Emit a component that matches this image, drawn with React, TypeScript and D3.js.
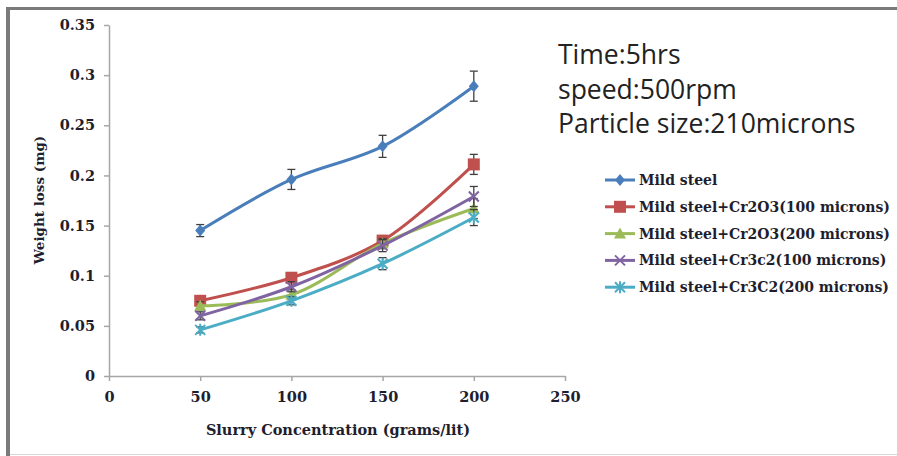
import React, { useEffect, useRef } from 'react'
import * as d3 from 'd3'

const concentrations = [50, 100, 150, 200]
const seriesNames = [
    'Mild steel',
    'Mild steel+Cr2O3(100 microns)',
    'Mild steel+Cr2O3(200 microns)',
    'Mild steel+Cr3c2(100 microns)',
    'Mild steel+Cr3C2(200 microns)',
]
const mildSteel = [0.145, 0.196, 0.229, 0.289]
const cr2o3_100 = [0.075, 0.098, 0.135, 0.211]
const cr2o3_200 = [0.070, 0.081, 0.132, 0.167]
const cr3c2_100 = [0.060, 0.089, 0.130, 0.179]
const cr3c2_200 = [0.046, 0.075, 0.112, 0.158]
const errMild = [0.006, 0.010, 0.011, 0.015]
const errCr2o3_100 = [0.004, 0.004, 0.005, 0.010]
const errCr2o3_200 = [0.004, 0.005, 0.005, 0.010]
const errCr3c2_100 = [0.004, 0.005, 0.006, 0.010]
const errCr3c2_200 = [0.003, 0.004, 0.006, 0.008]
const colors = ['#4a7ebb', '#c0504d', '#9bbb59', '#8064a2', '#4bacc6']
const markers = ['diamond', 'square', 'triangle', 'cross', 'star']
const xTicks = [0, 50, 100, 150, 200, 250]
const yTicks = [0, 0.05, 0.1, 0.15, 0.2, 0.25, 0.3, 0.35]
const notes = ['Time:5hrs', 'speed:500rpm', 'Particle size:210microns']

const W = 897
const H = 456
const labelFont = '"DejaVu Serif", serif'

const App = () => {
    const svgRef = useRef<SVGSVGElement>(null)

    useEffect(() => {
        const svg: any = d3.select(svgRef.current)
        svg.selectAll('*').remove()

        const values = [mildSteel, cr2o3_100, cr2o3_200, cr3c2_100, cr3c2_200]
        const errors = [errMild, errCr2o3_100, errCr2o3_200, errCr3c2_100, errCr3c2_200]

        const x = d3.scaleLinear([0, 250], [109, 565])
        const y = d3.scaleLinear([0, 0.35], [376, 25])

        // frame
        svg.append('rect').attr('x', 0).attr('y', 0).attr('width', W).attr('height', H).attr('fill', '#fff')
        svg.append('line').attr('x1', 6).attr('x2', W).attr('y1', 8.5).attr('y2', 8.5)
            .attr('stroke', '#7a7a7a').attr('stroke-width', 3)
        svg.append('line').attr('x1', 8).attr('x2', 8).attr('y1', 7).attr('y2', H)
            .attr('stroke', '#7a7a7a').attr('stroke-width', 4)
        svg.append('line').attr('x1', 10).attr('x2', W).attr('y1', 454.5).attr('y2', 454.5)
            .attr('stroke', '#d8d8d8').attr('stroke-width', 1)

        // axes
        const axisColor = '#a6a6a6'
        const xAxis = svg.append('g').attr('transform', `translate(0,${y(0)})`)
            .call(d3.axisBottom(x).tickValues(xTicks).tickSize(5).tickSizeOuter(0).tickFormat(d3.format('d')))
        const yAxis = svg.append('g').attr('transform', `translate(${x(0)},0)`)
            .call(d3.axisLeft(y).tickValues(yTicks).tickSize(5).tickSizeOuter(0).tickFormat((d: any) => d === 0 ? '0' : String(+d.toFixed(2))))
        for (const ax of [xAxis, yAxis]) {
            ax.select('.domain').attr('stroke', axisColor).attr('stroke-width', 1.5)
            ax.selectAll('.tick line').attr('stroke', axisColor).attr('stroke-width', 1.5)
            ax.selectAll('.tick text').attr('fill', '#1e1e2e').attr('font-family', labelFont)
                .attr('font-weight', 'bold').attr('font-size', 14.5)
        }
        xAxis.selectAll('.tick text').attr('dy', '1.25em')
        yAxis.selectAll('.tick text').attr('x', -14)

        svg.append('text').attr('x', 338).attr('y', 435).attr('text-anchor', 'middle')
            .attr('font-family', labelFont).attr('font-weight', 'bold').attr('font-size', 14.5)
            .attr('fill', '#1e1e2e').text('Slurry Concentration (grams/lit)')
        svg.append('text').attr('transform', 'translate(44,200) rotate(-90)').attr('text-anchor', 'middle')
            .attr('font-family', labelFont).attr('font-weight', 'bold').attr('font-size', 13.5)
            .attr('fill', '#1e1e2e').text('Weight loss (mg)')

        const drawMarker = (g: any, kind: string, cx: number, cy: number, color: string) => {
            if (kind === 'diamond') {
                g.append('path').attr('d', `M${cx},${cy - 6}L${cx + 5},${cy}L${cx},${cy + 6}L${cx - 5},${cy}Z`).attr('fill', color)
            } else if (kind === 'square') {
                g.append('rect').attr('x', cx - 6).attr('y', cy - 6).attr('width', 12).attr('height', 12).attr('fill', color)
            } else if (kind === 'triangle') {
                g.append('path').attr('d', `M${cx},${cy - 6}L${cx + 6},${cy + 5}L${cx - 6},${cy + 5}Z`).attr('fill', color)
            } else if (kind === 'cross') {
                g.append('path').attr('d', `M${cx - 5},${cy - 5}L${cx + 5},${cy + 5}M${cx - 5},${cy + 5}L${cx + 5},${cy - 5}`)
                    .attr('stroke', color).attr('stroke-width', 2)
            } else {
                g.append('path').attr('d', `M${cx - 5},${cy - 5}L${cx + 5},${cy + 5}M${cx - 5},${cy + 5}L${cx + 5},${cy - 5}M${cx},${cy - 6}L${cx},${cy + 6}`)
                    .attr('stroke', color).attr('stroke-width', 2)
            }
        }

        const line = d3.line<number>()
            .x((_, i) => x(concentrations[i]))
            .y(d => y(d))
            .curve(d3.curveCatmullRom.alpha(0.5))

        values.forEach((vals, s) => {
            const g = svg.append('g')
            g.append('path').attr('d', line(vals)).attr('fill', 'none')
                .attr('stroke', colors[s]).attr('stroke-width', 3).attr('stroke-linejoin', 'round')
            vals.forEach((v, i) => {
                const cx = x(concentrations[i])
                const e = errors[s][i]
                const eg = g.append('g').attr('stroke', '#404040').attr('stroke-width', 1.3)
                eg.append('line').attr('x1', cx).attr('x2', cx).attr('y1', y(v + e)).attr('y2', y(v - e))
                eg.append('line').attr('x1', cx - 4).attr('x2', cx + 4).attr('y1', y(v + e)).attr('y2', y(v + e))
                eg.append('line').attr('x1', cx - 4).attr('x2', cx + 4).attr('y1', y(v - e)).attr('y2', y(v - e))
                drawMarker(g, markers[s], cx, y(v), colors[s])
            })
        })

        // legend
        seriesNames.forEach((name, s) => {
            const ly = 180 + s * 26.8
            const g = svg.append('g')
            g.append('line').attr('x1', 605).attr('x2', 635).attr('y1', ly).attr('y2', ly)
                .attr('stroke', colors[s]).attr('stroke-width', 3)
            drawMarker(g, markers[s], 620, ly, colors[s])
            g.append('text').attr('x', 639).attr('y', ly + 5)
                .attr('font-family', labelFont).attr('font-weight', 'bold').attr('font-size', 14)
                .attr('fill', '#1e1e2e').text(name)
        })

        notes.forEach((t, i) => {
            svg.append('text').attr('x', 558).attr('y', 64 + i * 34.5)
                .attr('font-family', '"Open Sans", sans-serif').attr('font-size', 26.5)
                .attr('fill', '#222').text(t)
        })
    }, [])

    return (
        <svg ref={svgRef} width={W} height={H}
            style={{ position: 'absolute', left: 0, top: 0, background: '#fff' }} />
    )
}

export default App
